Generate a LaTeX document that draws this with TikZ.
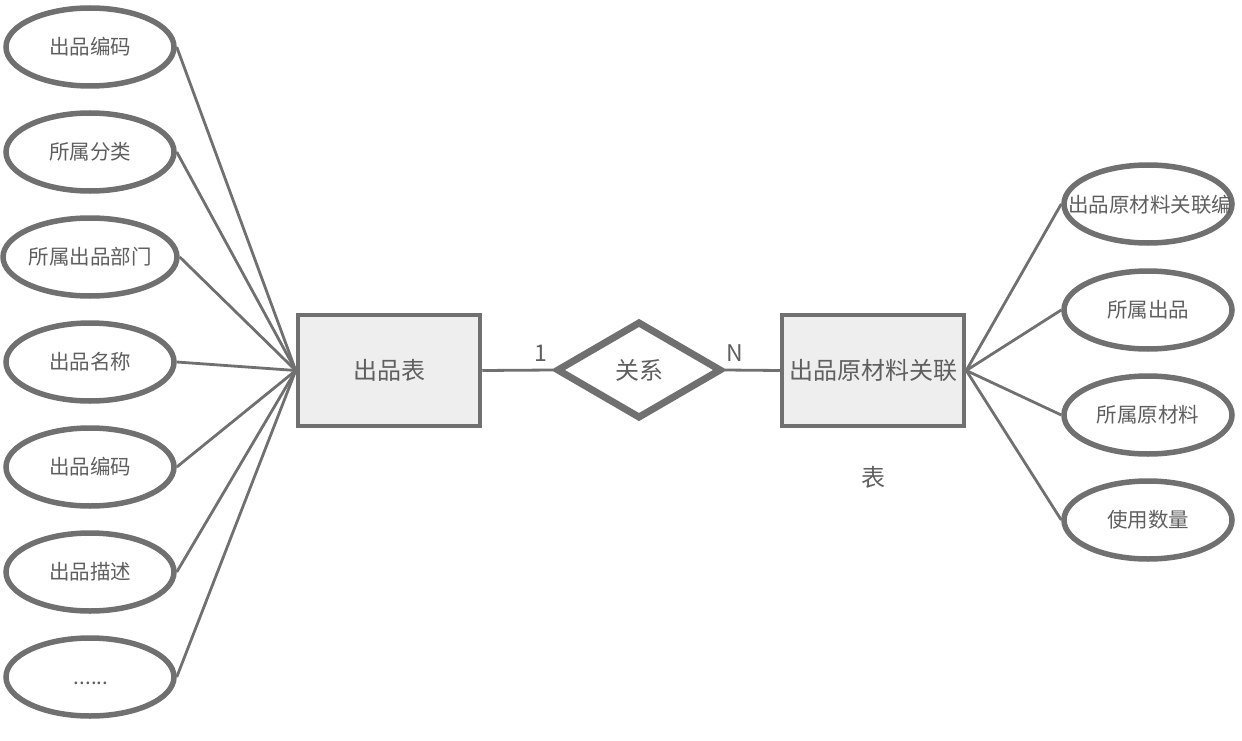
\documentclass[tikz,border=0pt]{standalone}
\usepackage{fontspec}
\setmainfont{Noto Sans CJK SC}
\usetikzlibrary{shapes.geometric}
\definecolor{strk}{HTML}{707070}
\definecolor{txt}{HTML}{5F5F5F}
\definecolor{boxfill}{HTML}{EEEEEE}
\begin{document}
\begin{tikzpicture}[x=1pt,y=-1pt,
  attr/.style={ellipse, draw=strk, line width=5.5pt, fill=white, minimum width=168pt, minimum height=78pt, inner sep=0pt, text=txt, font=\fontsize{20.5}{24}\selectfont},
  attrtext/.style={inner sep=0pt, text=txt, font=\fontsize{20.5}{24}\selectfont},
  ent/.style={rectangle, draw=strk, line width=4.5pt, fill=boxfill, minimum width=182pt, minimum height=111pt, inner sep=0pt, text=txt, font=\fontsize{24}{28}\selectfont},
  rel/.style={diamond, draw=strk, line width=7pt, fill=white, minimum width=165pt, minimum height=97pt, inner sep=0pt, text=txt, font=\fontsize{24}{28}\selectfont},
  conn/.style={draw=strk, line width=2.8pt},
  card/.style={text=txt, font=\fontsize{23}{26}\selectfont, inner sep=0pt}]
\useasboundingbox (0,0) rectangle (1242,741);
% entities
\node[ent] (e1) at (389,370.5) {出品表};
\node[rel] (r) at (639,370) {关系};
\node[ent] (e2) at (873,370.5) {出品原材料关联};
\node[text=txt, font=\fontsize{24}{28}\selectfont, inner sep=0pt] (e2b) at (873,477) {表};
% left attributes
\node[attr] (a1) at (90,47) {出品编码};
\node[attr] (a2) at (90,152) {所属分类};
\node[attr] (a3) at (90,257) {所属出品部门};
\node[attr] (a4) at (90,362) {出品名称};
\node[attr] (a5) at (90,467) {出品编码};
\node[attr] (a6) at (90,572) {出品描述};
\node[attr] (a7) at (90,677) {};
\node[attrtext] (a7t) at (91,683) {......};
% right attributes
\node[attr] (b1) at (1148,204) {};
\node[attrtext] (b1t) at (1150,205) {出品原材料关联编};
\node[attr] (b2) at (1148,310) {所属出品};
\node[attr] (b3) at (1148,415) {所属原材料};
\node[attr] (b4) at (1148,520) {使用数量};
% connectors
\foreach \a in {a1,a2,a3,a4,a5,a6,a7} \draw[conn] (e1.west) -- (\a.east);
\foreach \b in {b1,b2,b3,b4} \draw[conn] (e2.east) -- (\b.west);
\draw[conn] (e1.east) -- (r.west);
\draw[conn] (r.east) -- (e2.west);
\node[card] (c1) at (541,353) {1};
\node[card] (cn) at (735,353) {N};
\end{tikzpicture}
\end{document}
